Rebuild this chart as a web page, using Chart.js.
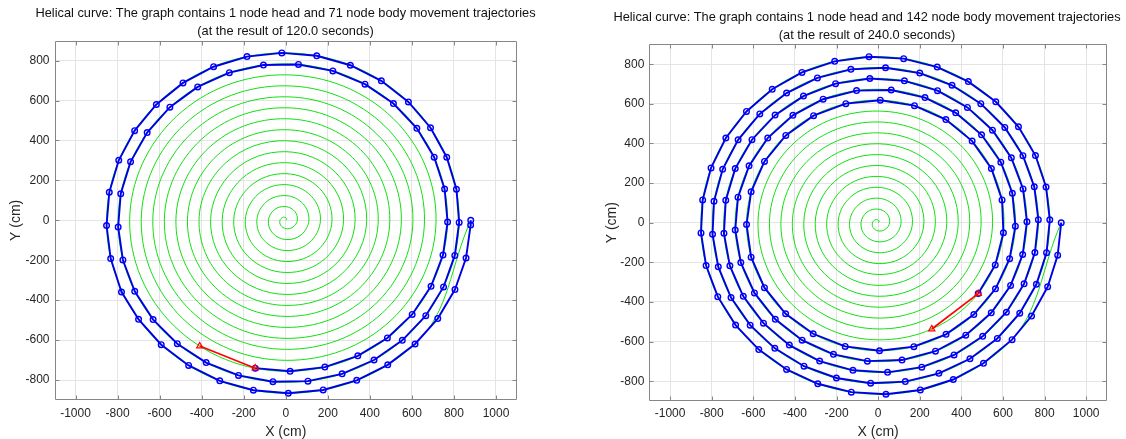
<!DOCTYPE html>
<html>
<head>
<meta charset="utf-8">
<title>Helical curve</title>
<script src="https://cdn.jsdelivr.net/npm/chart.js@4.4.1/dist/chart.umd.min.js"></script>
<style>
  html, body { margin: 0; padding: 0; background: #fff; overflow: hidden; }
  body { width: 1126px; height: 439px; position: relative; }
  canvas { position: absolute; top: 0; }
  #left { left: 0; }
  #right { left: 600px; }
</style>
</head>
<body>
<canvas id="left" width="571" height="439"></canvas>
<canvas id="right" width="534" height="439"></canvas>
<script>
// ==================== DATA ====================
const FONT = "'Liberation Sans', Arial, Helvetica, sans-serif";

const xTicks = [-1000, -800, -600, -400, -200, 0, 200, 400, 600, 800, 1000];
const yTicks = [-800, -600, -400, -200, 0, 200, 400, 600, 800];

// green track, one point every 1/8 turn from the outer start point to the centre
const spiralX = [
  880, 617.4, 0, -607.7, -852.5, -598.0, 0, 588.2,
  825, 578.5, 0, -568.8, -797.5, -559.1, 0, 549.3,
  770, 539.6, 0, -529.9, -742.5, -520.2, 0, 510.5,
  715, 500.7, 0, -491.0, -687.5, -481.3, 0, 471.6,
  660, 461.8, 0, -452.1, -632.5, -442.4, 0, 432.7,
  605, 422.9, 0, -413.2, -577.5, -403.5, 0, 393.8,
  550, 384.1, 0, -374.3, -522.5, -364.6, 0, 354.9,
  495, 345.2, 0, -335.4, -467.5, -325.7, 0, 316.0,
  440, 306.3, 0, -296.5, -412.5, -286.8, 0, 277.1,
  385, 267.4, 0, -257.7, -357.5, -247.9, 0, 238.2,
  330, 228.5, 0, -218.8, -302.5, -209.0, 0, 199.3,
  275, 189.6, 0, -179.9, -247.5, -170.2, 0, 160.4,
  220, 150.7, 0, -141.0, -192.5, -131.3, 0, 121.5,
  165, 111.8, 0, -102.1, -137.5, -92.4, 0, 82.6,
  110, 72.9, 0, -63.2, -82.5, -53.5, 0, 43.8,
  55, 34.0, 0, -24.3, -27.5, -14.6, 0, 4.9,
  0
];
const spiralY = [
  0, -617.4, -866.3, -607.7, 0, 598.0, 838.8, 588.2,
  0, -578.5, -811.3, -568.8, 0, 559.1, 783.8, 549.3,
  0, -539.6, -756.3, -529.9, 0, 520.2, 728.8, 510.5,
  0, -500.7, -701.3, -491.0, 0, 481.3, 673.8, 471.6,
  0, -461.8, -646.3, -452.1, 0, 442.4, 618.8, 432.7,
  0, -422.9, -591.3, -413.2, 0, 403.5, 563.8, 393.8,
  0, -384.1, -536.3, -374.3, 0, 364.6, 508.8, 354.9,
  0, -345.2, -481.3, -335.4, 0, 325.7, 453.8, 316.0,
  0, -306.3, -426.3, -296.5, 0, 286.8, 398.8, 277.1,
  0, -267.4, -371.3, -257.7, 0, 247.9, 343.8, 238.2,
  0, -228.5, -316.3, -218.8, 0, 209.0, 288.8, 199.3,
  0, -189.6, -261.3, -179.9, 0, 170.2, 233.8, 160.4,
  0, -150.7, -206.3, -141.0, 0, 131.3, 178.8, 121.5,
  0, -111.8, -151.3, -102.1, 0, 92.4, 123.8, 82.6,
  0, -72.9, -96.3, -63.2, 0, 53.5, 68.8, 43.8,
  0, -34.0, -41.3, -24.3, 0, 14.6, 13.8, 4.9,
  0
];

// t = 120 s : head + first body node (red), body nodes (blue)
const head120X = [-409.1, -145.1];
const head120Y = [-630.0, -740.5];
const body120X = [
  -145.1, 20.7, 186.0, 342.8, 483.5, 601.4, 691.0, 748.0, 769.8, 755.6,
  706.1, 623.7, 512.2, 376.9, 224.0, 60.5, -106.1, -268.3, -419.0, -551.2,
  -659.2, -738.2, -784.9, -797.2, -774.7, -718.4, -630.9, -515.9, -378.6, -224.8,
  -61.1, 105.6, 268.2, 419.9, 554.4, 666.2, 750.5, 804.1, 824.8, 811.9,
  765.8, 688.6, 583.5, 454.6, 307.3, 147.4, -18.6, -184.3, -343.1, -488.7,
  -615.5, -718.7, -794.3, -839.4, -852.4, -832.7, -781.3, -700.1, -592.3, -461.9,
  -313.9, -153.9, 12.1, 178.0, 337.6, 485.1, 615.2, 723.1, 804.9, 857.6,
  879.5, 880
];
const body120Y = [
  -740.5, -756.2, -735.3, -678.7, -589.3, -471.4, -330.8, -174.2, -9.0, 157.0,
  316.2, 461.0, 584.9, 682.1, 748.4, 780.7, 777.7, 739.6, 668.2, 566.6,
  439.6, 292.9, 132.9, -33.4, -198.6, -355.5, -497.3, -618.1, -712.6, -776.9,
  -808.3, -805.5, -768.8, -699.7, -601.2, -477.4, -333.7, -175.8, -10.4, 155.7,
  316.0, 463.8, 593.1, 698.9, 776.9, 824.1, 838.7, 820.3, 769.4, 688.4,
  580.2, 449.3, 300.6, 140.2, -26.0, -191.6, -358.9, -495.9, -623.0, -727.0,
  -803.9, -850.9, -866.3, -849.6, -801.5, -723.9, -619.5, -492.3, -347.0, -188.7,
  -23.3, 0
];

// t = 240 s
const head240X = [257.6, 480.9];
const head240Y = [-536.5, -357.8];
const body240X = [
  480.9, 562.9, 602.1, 595.6, 544.2, 451.8, 325.4, 174.5, 10.3, -155.4,
  -310.4, -443.9, -546.3, -610.7, -632.6, -610.6, -546.5, -444.7, -312.4, -158.5,
  6.5, 171.8, 326.3, 459.9, 564.0, 632.0, 659.6, 645.1, 589.7, 496.9,
  372.8, 225.0, 62.9, -103.8, -264.5, -409.7, -530.8, -620.5, -673.6, -687.0,
  -660.1, -594.6, -494.4, -365.3, -214.9, -51.8, 114.8, 275.4, 421.1, 543.7,
  636.6, 694.7, 715.1, 696.5, 640.3, 549.5, 429.0, 285.3, 126.2, -40.1,
  -204.6, -359.0, -495.3, -606.5, -686.9, -732.5, -741.2, -712.6, -648.2, -551.3,
  -426.9, -281.1, -121.1, 45.3, 209.9, 364.7, 502.5, 616.5, 701.5, 753.4,
  770.0, 750.5, 695.9, 608.9, 493.4, 355.0, 200.0, 35.5, -131.0, -291.9,
  -440.1, -569.0, -673.0, -747.4, -788.9, -796.0, -768.3, -707.2, -615.2, -496.6,
  -356.4, -200.7, -36.1, 130.5, 291.9, 441.3, 572.8, 680.6, 760.6, 809.4,
  825.0, 807.0, 756.1, 674.5, 565.5, 433.5, 283.9, 122.6, -43.8, -208.9,
  -366.1, -509.2, -632.9, -732.1, -803.2, -843.5, -851.5, -826.9, -770.8, -685.3,
  -573.7, -440.2, -290.2, -128.9, 37.5, 202.8, 361.1, 506.3, 643.7, 737.3,
  814.8, 862.9, 880
];
const body240Y = [
  -357.8, -212.9, -51.1, 115.2, 273.6, 412.1, 520.5, 591.0, 618.5, 601.2,
  540.5, 440.9, 309.7, 156.1, -8.9, -174.1, -327.7, -459.6, -560.6, -624.3,
  -646.3, -625.5, -563.2, -463.7, -333.7, -181.6, -17.4, 148.6, 305.7, 444.0,
  555.0, 631.9, 670.0, 667.1, 623.5, 542.0, 427.5, 287.1, 129.2, -36.8,
  -201.3, -354.4, -487.5, -592.9, -664.6, -698.7, -693.3, -648.7, -567.8, -454.9,
  -316.6, -160.4, 5.0, 170.6, 327.4, 467.1, 582.2, 666.7, 716.2, 728.1,
  702.0, 639.3, 543.3, 419.1, 273.2, 112.9, -53.5, -217.7, -371.4, -507.0,
  -617.8, -698.5, -745.1, -755.4, -729.1, -667.5, -573.6, -452.0, -308.7, -150.3,
  15.6, 181.2, 338.7, 480.9, 601.2, 694.1, 755.5, 782.5, 774.2, 730.9,
  654.7, 549.1, 418.7, 269.5, 108.1, -58.5, -222.8, -377.9, -517.0, -634.1,
  -724.3, -783.8, -810.1, -802.1, -760.4, -686.7, -584.1, -457.0, -310.7, -151.3,
  14.7, 180.4, 339.2, 484.5, 610.6, 712.4, 786.0, 828.4, 838.1, 814.6,
  759.0, 673.6, 561.7, 427.6, 276.9, 115.1, -51.5, -216.5, -373.4, -516.6,
  -640.5, -740.6, -813.0, -855.3, -865.8, -844.3, -791.5, -709.6, -590.3, -471.2,
  -323.6, -164.0, 0
];

const title120 = ['Helical curve: The graph contains 1 node head and 71 node body movement trajectories',
                  '(at the result of 120.0 seconds)'];
const title240 = ['Helical curve: The graph contains 1 node head and 142 node body movement trajectories',
                  '(at the result of 240.0 seconds)'];

// ==================== CHARTS ====================
function pts(xs, ys) {
  return xs.map((x, i) => ({ x, y: ys[i] }));
}

// box around the axes + inward tick marks (matlab look)
const framePlugin = {
  id: 'frame',
  afterDatasetsDraw(chart) {
    const { ctx, chartArea: a, scales } = chart;
    const L = Math.round(a.left) + 0.5, R = Math.round(a.right) - 0.5;
    const T = Math.round(a.top) + 0.5, B = Math.round(a.bottom) - 0.5;
    ctx.save();
    ctx.strokeStyle = '#868686';
    ctx.lineWidth = 1;
    ctx.beginPath();
    scales.x.ticks.forEach(t => {
      const px = Math.round(scales.x.getPixelForValue(t.value)) + 0.5;
      ctx.moveTo(px, T); ctx.lineTo(px, T + 4);
      ctx.moveTo(px, B); ctx.lineTo(px, B - 4);
    });
    scales.y.ticks.forEach(t => {
      const py = Math.round(scales.y.getPixelForValue(t.value)) + 0.5;
      ctx.moveTo(L, py); ctx.lineTo(L + 4, py);
      ctx.moveTo(R, py); ctx.lineTo(R - 4, py);
    });
    ctx.rect(L, T, R - L, B - T);
    ctx.stroke();
    ctx.restore();
  }
};

function renderPanel(id, cfg) {
  const tickFont = { family: FONT, size: 12 };
  const gridColor = '#e4e4e4';
  const plain = v => String(v);   // no thousands separator
  return new Chart(document.getElementById(id), {
    type: 'scatter',
    data: {
      datasets: [
        {
          data: pts(cfg.headX, cfg.headY),
          showLine: true,
          borderColor: '#ff0000',
          borderWidth: 1.6,
          pointStyle: 'triangle',
          pointRadius: 3.6,
          pointBorderWidth: 1.2,
          pointBorderColor: '#ff0000',
          pointBackgroundColor: 'rgba(0,0,0,0)',
          yAxisID: 'y',
          order: 1
        },
        {
          data: pts(cfg.bodyX, cfg.bodyY),
          showLine: true,
          borderColor: '#0000e6',
          borderWidth: 1.9,
          pointRadius: 2.8,
          pointBorderWidth: 1.4,
          pointBorderColor: '#0000ff',
          pointBackgroundColor: 'rgba(0,0,0,0)',
          tension: 0,
          yAxisID: 'y',
          order: 2
        },
        {
          data: pts(spiralX, spiralY),
          showLine: true,
          borderColor: '#10e010',
          borderWidth: 1,
          pointRadius: 0,
          tension: 0.375,
          yAxisID: 'y',
          order: 3
        }
      ]
    },
    options: {
      responsive: false,
      animation: false,
      devicePixelRatio: 1,
      events: [],
      layout: { padding: 0 },
      plugins: {
        legend: { display: false },
        tooltip: { enabled: false },
        title: {
          display: true,
          text: cfg.title,
          color: '#111',
          font: { family: FONT, size: 12.8, weight: 'normal', lineHeight: 1.42 },
          padding: { top: cfg.titleTop, bottom: cfg.titleBottom }
        }
      },
      scales: {
        x: {
          type: 'linear',
          min: -1100, max: 1100,
          afterBuildTicks: s => { s.ticks = xTicks.map(v => ({ value: v })); },
          afterFit: s => { s.height = cfg.xHeight; },
          grid: { color: gridColor, drawTicks: false },
          border: { display: false },
          ticks: { color: '#262626', font: tickFont, padding: cfg.xTickPad, maxRotation: 0, callback: plain },
          title: {
            display: true, text: 'X (cm)', color: '#262626',
            font: { family: FONT, size: 14, lineHeight: 1 },
            padding: { top: 0, bottom: 0.3 }
          }
        },
        y: {
          type: 'linear',
          position: 'left',
          min: -900, max: 900,
          afterBuildTicks: s => { s.ticks = yTicks.map(v => ({ value: v })); },
          afterFit: s => { s.width = cfg.yWidth; },
          grid: { color: gridColor, drawTicks: false },
          border: { display: false },
          ticks: { color: '#262626', font: tickFont, padding: 5, callback: plain },
          title: {
            display: true, text: 'Y (cm)', color: '#262626',
            font: { family: FONT, size: 14, lineHeight: 1.2 },
            padding: { top: cfg.yTitlePad, bottom: 0 }
          }
        },
        // empty right-hand axis, only there to hold the right margin
        yr: {
          type: 'linear',
          position: 'right',
          min: 0, max: 1,
          afterFit: s => { s.width = cfg.rightWidth; },
          grid: { display: false },
          border: { display: false },
          ticks: { display: false }
        }
      }
    },
    plugins: [framePlugin]
  });
}

renderPanel('left', {
  title: title120,
  headX: head120X, headY: head120Y,
  bodyX: body120X, bodyY: body120Y,
  titleTop: 4, titleBottom: 0.3,
  yWidth: 54.5, rightWidth: 54, xHeight: 39,
  xTickPad: 6, yTitlePad: 7.6
});

renderPanel('right', {
  title: title240,
  headX: head240X, headY: head240Y,
  bodyX: body240X, bodyY: body240Y,
  titleTop: 8, titleBottom: 0.1,
  yWidth: 49.3, rightWidth: 27, xHeight: 38,
  xTickPad: 5, yTitlePad: 3.3
});
</script>
</body>
</html>
